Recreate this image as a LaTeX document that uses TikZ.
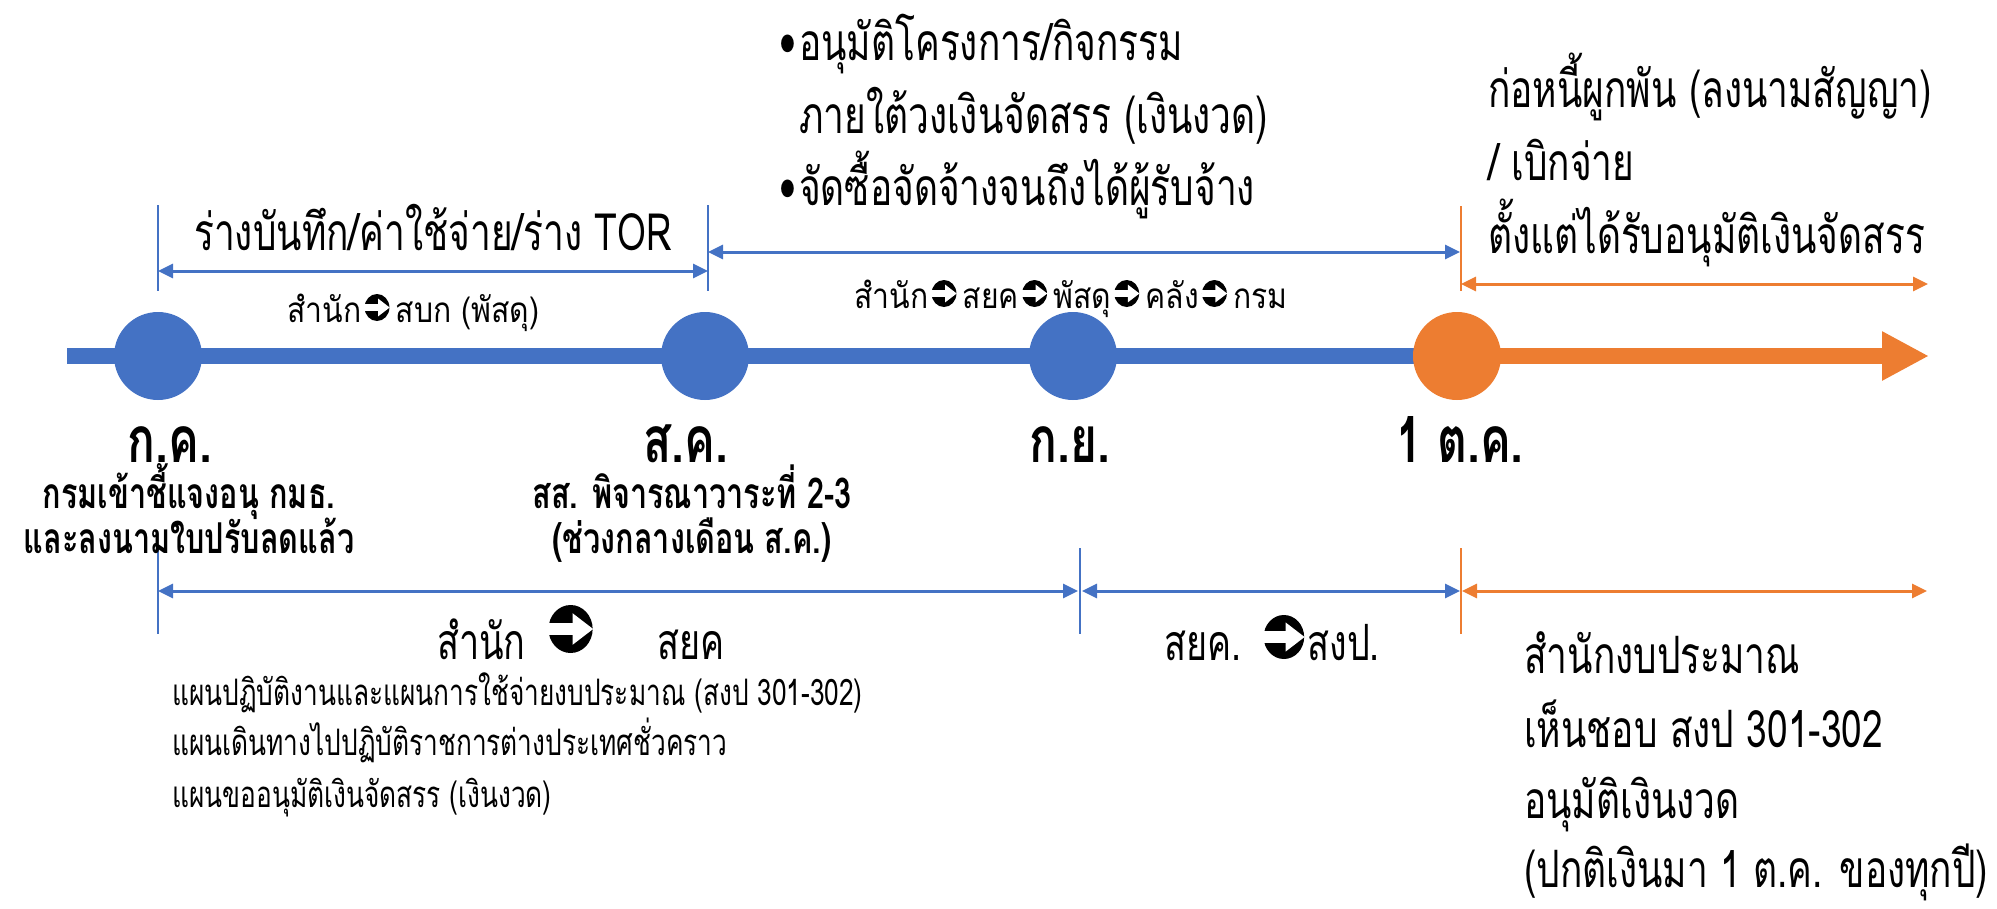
\documentclass[tikz,border=0pt]{standalone}
\usepackage{fontspec}
\usetikzlibrary{arrows.meta}
\newfontfamily\thai[Script=Thai,FakeStretch=0.72]{Loma}
\newfontfamily\thaiw[Script=Thai,FakeStretch=0.86]{Loma}
\newcommand\arrsym[2]{\tikz[x=1pt,y=1pt,baseline={(0,#2)}]{%
  \fill[black] ({0.46*#1},{0.5*#1}) ellipse [x radius={0.46*#1}, y radius={0.5*#1}];
  \fill[white] (-0.3,{0.365*#1}) rectangle ({0.56*#1},{0.635*#1});
  \fill[white] ({0.5*#1},{0.17*#1}) -- ({0.93*#1},{0.5*#1}) -- ({0.5*#1},{0.83*#1}) -- cycle;}}
\newcommand\sarr{\hspace{3pt}\arrsym{27}{1}\hspace{6pt}}
\definecolor{cblue}{HTML}{4472C4}
\definecolor{corange}{HTML}{ED7D31}
\tikzset{
  dot/.style={circle, minimum size=88pt, inner sep=0pt, fill=#1},
  axisline/.style={line width=16pt, draw=#1},
  tickline/.style={line width=2.5pt, draw=#1},
  dimline/.style={line width=3pt, draw=#1, {Triangle[length=15pt,width=14pt]}-{Triangle[length=15pt,width=14pt]}},
  bigtxt/.style={inner sep=0pt, font=\thai\fontsize{51.5}{60}\selectfont},
  smalltxt/.style={inner sep=0pt, font=\thaiw\fontsize{35}{40}\selectfont},
  plantxt/.style={inner sep=0pt, font=\thai\fontsize{36.5}{40}\selectfont},
  midtxt/.style={inner sep=0pt, font=\thai\fontsize{50}{56}\selectfont},
  monthtxt/.style={inner sep=0pt, anchor=base, font=\thai\bfseries\fontsize{64}{70}\selectfont},
  subtxt/.style={inner sep=0pt, anchor=base, font=\thai\bfseries\fontsize{42.5}{48}\selectfont},
}
\begin{document}
\begin{tikzpicture}[x=1pt,y=-1pt]
\useasboundingbox (0,0) rectangle (1997,908);
% axis
\coordinate (s) at (67,356);
\coordinate (e) at (1929,356);
\coordinate (p1) at (158,356);
\coordinate (p2) at (705,356);
\coordinate (p3) at (1073,356);
\coordinate (p4) at (1457,356);
\draw[axisline=cblue] (s) -- (p1) -- (p2) -- (p3) -- (p4);
\draw[axisline=corange, -{Triangle[length=47pt,width=46pt]}] (p4) -- (e);
\node[dot=cblue] (c1) at (p1) {};
\node[dot=cblue] (c2) at (p2) {};
\node[dot=cblue] (c3) at (p3) {};
\node[dot=corange] (c4) at (p4) {};
% upper ticks
\coordinate (ta1) at (158,205); \coordinate (tb1) at (158,291);
\coordinate (ta2) at (708,205); \coordinate (tb2) at (708,291);
\coordinate (ta3) at (1461,206); \coordinate (tb3) at (1461,291);
\draw[tickline=cblue] (ta1) -- (tb1);
\draw[tickline=cblue] (ta2) -- (tb2);
\draw[tickline=corange] (ta3) -- (tb3);
\coordinate (u1l) at (158,271); \coordinate (u1r) at (708,271);
\coordinate (u2l) at (708,252); \coordinate (u2r) at (1460,252);
\coordinate (u3l) at (1461,284); \coordinate (u3r) at (1928,284);
\draw[dimline=cblue] (u1l) -- (u1r);
\draw[dimline=cblue] (u2l) -- (u2r);
\draw[dimline=corange] (u3l) -- (u3r);
% lower ticks
\coordinate (la1) at (158,548); \coordinate (lb1) at (158,634);
\coordinate (la2) at (1080,548); \coordinate (lb2) at (1080,634);
\coordinate (la3) at (1461,548); \coordinate (lb3) at (1461,634);
\draw[tickline=cblue] (la1) -- (lb1);
\draw[tickline=cblue] (la2) -- (lb2);
\draw[tickline=corange] (la3) -- (lb3);
\coordinate (d1l) at (158,591); \coordinate (d1r) at (1078,591);
\coordinate (d2l) at (1082,591); \coordinate (d2r) at (1460,591);
\coordinate (d3l) at (1462,591); \coordinate (d3r) at (1927,591);
\draw[dimline=cblue] (d1l) -- (d1r);
\draw[dimline=cblue] (d2l) -- (d2r);
\draw[dimline=corange] (d3l) -- (d3r);
% top texts
\node[bigtxt, anchor=base west] (b1) at (779,60) {\makebox[20pt][l]{•}อนุมัติโครงการ/กิจกรรม};
\node[bigtxt, anchor=base west] (b2) at (799,133) {ภายใต้วงเงินจัดสรร (เงินงวด)};
\node[bigtxt, anchor=base west] (b3) at (779,205) {\makebox[20pt][l]{•}จัดซื้อจัดจ้างจนถึงได้ผู้รับจ้าง};
\node[bigtxt, anchor=base west] (r1) at (1488,107) {ก่อหนี้ผูกพัน (ลงนามสัญญา)};
\node[bigtxt, anchor=base west] (r2) at (1488,180) {/ เบิกจ่าย};
\node[bigtxt, anchor=base west] (r3) at (1488,253) {ตั้งแต่ได้รับอนุมัติเงินจัดสรร};
\node[bigtxt, anchor=base] (tor) at (433,250) {ร่างบันทึก/ค่าใช้จ่าย/ร่าง TOR};
\node[smalltxt, anchor=base west] (f1) at (287,322) {สำนัก\sarr สบก (พัสดุ)};
\node[smalltxt, anchor=base west] (f2) at (854,308) {สำนัก\sarr สยค\sarr พัสดุ\sarr คลัง\sarr กรม};
% months
\node[monthtxt] (m1) at (170,462) {ก.ค.};
\node[monthtxt] (m2) at (686,462) {ส.ค.};
\node[monthtxt] (m3) at (1070,462) {ก.ย.};
\node[monthtxt] (m4) at (1460,462) {1 ต.ค.};
\node[subtxt] (s1) at (189,508) {กรมเข้าชี้แจงอนุ กมธ.};
\node[subtxt] (s2) at (189,553) {และลงนามใบปรับลดแล้ว};
\node[subtxt] (s3) at (692,508) {สส. พิจารณาวาระที่ 2-3};
\node[subtxt] (s4) at (692,553) {(ช่วงกลางเดือน ส.ค.)};
% lower texts
\node[midtxt, anchor=base west] (l1a) at (437,659) {สำนัก};
\node[inner sep=0pt, anchor=base west] (l1b) at (548,659) {\arrsym{48}{6}};
\node[midtxt, anchor=base west] (l1c) at (657,659) {สยค};
\node[midtxt, anchor=base west] (l2) at (1164,660) {สยค.\hspace{22pt}\arrsym{44}{1}\hspace{3pt}สงป.};
\node[plantxt, anchor=base west] (p1t) at (172,705) {แผนปฏิบัติงานและแผนการใช้จ่ายงบประมาณ (สงป 301-302)};
\node[plantxt, anchor=base west] (p2t) at (172,755) {แผนเดินทางไปปฏิบัติราชการต่างประเทศชั่วคราว};
\node[plantxt, anchor=base west] (p3t) at (172,807) {แผนขออนุมัติเงินจัดสรร (เงินงวด)};
\node[bigtxt, anchor=base west] (q1) at (1524,673) {สำนักงบประมาณ};
\node[bigtxt, anchor=base west] (q2) at (1524,747) {เห็นชอบ สงป 301-302};
\node[bigtxt, anchor=base west] (q3) at (1524,818) {อนุมัติเงินงวด};
\node[bigtxt, anchor=base west] (q4) at (1524,887) {(ปกติเงินมา 1 ต.ค. ของทุกปี)};
\end{tikzpicture}
\end{document}
